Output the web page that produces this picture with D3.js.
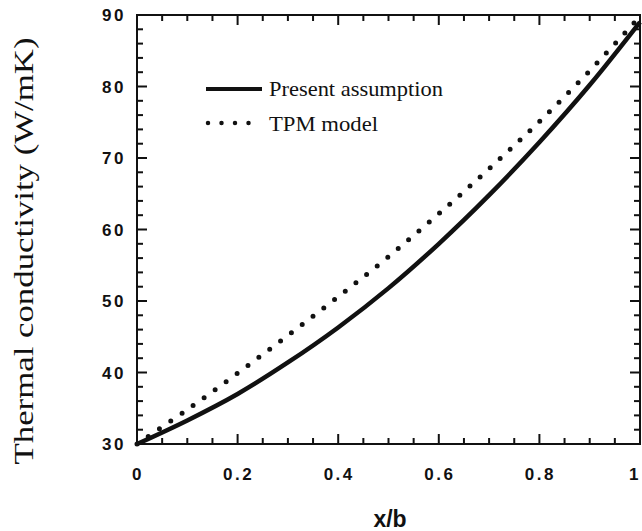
<!DOCTYPE html>
<html>
<head>
<meta charset="utf-8">
<script src="https://cdn.jsdelivr.net/npm/d3@7"></script>
<style>
  html, body { margin: 0; padding: 0; background: #fff; }
  svg { display: block; }
  .tick-label { font-family: "Liberation Sans", Arial, sans-serif; font-weight: bold; font-size: 17px; letter-spacing: 2.5px; fill: #111; }
  .serif { font-family: "Liberation Serif", "Times New Roman", serif; fill: #111; }
</style>
</head>
<body>
<svg id="chart" width="642" height="531"></svg>
<script>
// values
const xb = [0, 0.1, 0.2, 0.3, 0.4, 0.5, 0.6, 0.7, 0.8, 0.9, 1.0];
const present = [30, 33.3, 37.0, 41.4, 46.3, 51.8, 58.0, 64.8, 72.2, 80.2, 89.0];
const tpm = [30, 34.8, 39.9, 45.2, 50.6, 56.2, 62.2, 68.5, 75.1, 82.2, 89.8];

const xTicks = [0, 0.2, 0.4, 0.6, 0.8, 1];
const xTickLabels = ["0", "0.2", "0.4", "0.6", "0.8", "1"];
const yTicks = [30, 40, 50, 60, 70, 80, 90];

const svg = d3.select("#chart");

const PLOT_LEFT = 137, PLOT_RIGHT = 640, PLOT_TOP = 15, PLOT_BOTTOM = 444;

const x = d3.scaleLinear().domain([0, 1]).range([PLOT_LEFT, PLOT_RIGHT]);
const y = d3.scaleLinear().domain([30, 90]).range([PLOT_BOTTOM, PLOT_TOP]);

const xMinor = d3.range(1, 20).filter((i) => i % 4 !== 0).map((i) => i * 0.05);
const yMinor = d3.range(31, 90).filter((v) => v % 2 === 0 && v % 10 !== 0);

const MAJOR = 10, MINOR = 6;

// inward ticks on all four sides
const tickLayer = svg.append("g").attr("stroke", "#111").attr("stroke-width", 2);

const xTickData = xTicks.map((v) => [v, MAJOR]).concat(xMinor.map((v) => [v, MINOR]));
const yTickData = yTicks.map((v) => [v, MAJOR]).concat(yMinor.map((v) => [v, MINOR]));

[PLOT_BOTTOM, PLOT_TOP].forEach((edge) => {
  const dir = edge === PLOT_BOTTOM ? -1 : 1;
  tickLayer.append("g").selectAll("line")
    .data(xTickData)
    .enter()
    .append("line")
    .attr("x1", (d) => x(d[0]))
    .attr("x2", (d) => x(d[0]))
    .attr("y1", edge)
    .attr("y2", (d) => edge + dir * d[1]);
});

[PLOT_LEFT, PLOT_RIGHT].forEach((edge) => {
  const dir = edge === PLOT_LEFT ? 1 : -1;
  tickLayer.append("g").selectAll("line")
    .data(yTickData)
    .enter()
    .append("line")
    .attr("y1", (d) => y(d[0]))
    .attr("y2", (d) => y(d[0]))
    .attr("x1", edge)
    .attr("x2", (d) => edge + dir * d[1]);
});

svg.append("rect")
  .attr("x", PLOT_LEFT).attr("y", PLOT_TOP)
  .attr("width", PLOT_RIGHT - PLOT_LEFT).attr("height", PLOT_BOTTOM - PLOT_TOP)
  .attr("fill", "none").attr("stroke", "#111").attr("stroke-width", 2);

// tick labels
svg.append("g").selectAll("text")
  .data(xTicks)
  .enter()
  .append("text")
  .attr("class", "tick-label")
  .attr("x", (d) => Math.min(x(d) + 1, 635))
  .attr("y", 480)
  .attr("text-anchor", "middle")
  .text((d, i) => xTickLabels[i]);

svg.append("g").selectAll("text")
  .data(yTicks)
  .enter()
  .append("text")
  .attr("class", "tick-label")
  .attr("x", 126)
  .attr("y", (d) => y(d) + 6)
  .attr("text-anchor", "end")
  .text((d) => d);

// curves
const line = d3.line()
  .x((d) => x(d[0]))
  .y((d) => y(d[1]))
  .curve(d3.curveCatmullRom);

svg.append("path")
  .datum(xb.map((v, i) => [v, present[i]]))
  .attr("d", line)
  .attr("fill", "none")
  .attr("stroke", "#111")
  .attr("stroke-width", 4.5);

svg.append("path")
  .datum(xb.map((v, i) => [v, tpm[i]]))
  .attr("d", line)
  .attr("fill", "none")
  .attr("stroke", "#111")
  .attr("stroke-width", 5)
  .attr("stroke-linecap", "round")
  .attr("stroke-dasharray", "0 13.6");

// legend
const legend = svg.append("g");
legend.append("line")
  .attr("x1", 206).attr("x2", 262).attr("y1", 89).attr("y2", 89)
  .attr("stroke", "#111").attr("stroke-width", 4);
legend.append("line")
  .attr("x1", 208).attr("x2", 262).attr("y1", 123).attr("y2", 123)
  .attr("stroke", "#111").attr("stroke-width", 4.5)
  .attr("stroke-linecap", "round")
  .attr("stroke-dasharray", "0 13.5");
legend.append("text")
  .attr("class", "serif")
  .attr("x", 269).attr("y", 96)
  .attr("textLength", 174).attr("lengthAdjust", "spacingAndGlyphs")
  .style("font-size", "21px")
  .text("Present assumption");
legend.append("text")
  .attr("class", "serif")
  .attr("x", 269).attr("y", 131)
  .attr("textLength", 109).attr("lengthAdjust", "spacingAndGlyphs")
  .style("font-size", "21px")
  .text("TPM model");

// axis titles
svg.append("text")
  .attr("class", "serif")
  .attr("transform", "translate(33,251) rotate(-90)")
  .attr("text-anchor", "middle")
  .attr("textLength", 427).attr("lengthAdjust", "spacingAndGlyphs")
  .style("font-size", "27px")
  .text("Thermal conductivity (W/mK)");

svg.append("text")
  .attr("x", 390).attr("y", 527)
  .attr("text-anchor", "middle")
  .style("font-family", "'Liberation Sans', Arial, sans-serif")
  .style("font-weight", "bold")
  .style("font-size", "23px")
  .attr("fill", "#111")
  .text("x/b");
</script>
</body>
</html>
